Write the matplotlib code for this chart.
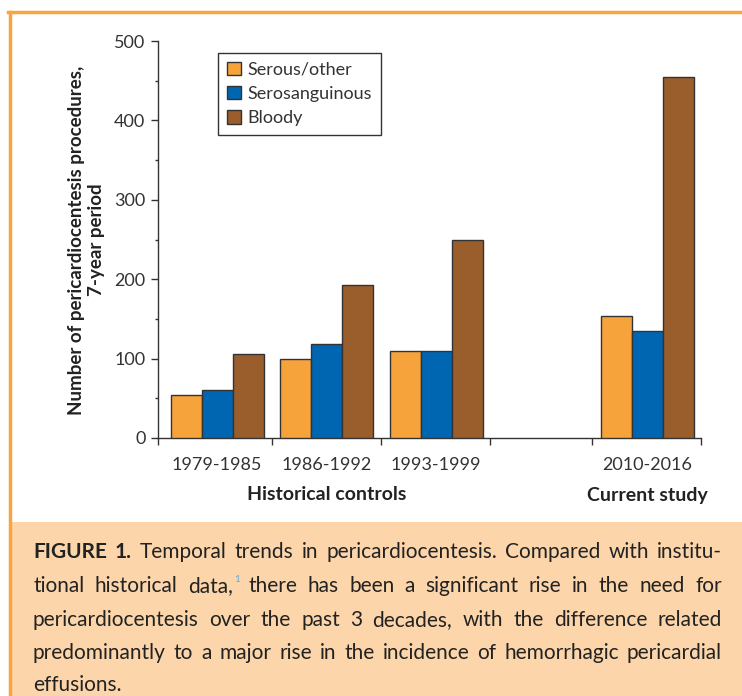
import matplotlib.pyplot as plt
from matplotlib import font_manager
from matplotlib.patches import Rectangle
from matplotlib.lines import Line2D

# data
periods = ['1979-1985', '1986-1992', '1993-1999', '2010-2016']
serous = [54, 100, 110, 154]
serosanguinous = [61, 119, 109, 135]
bloody = [106, 193, 250, 455]
series_names = ['Serous/other', 'Serosanguinous', 'Bloody']
colors = ['#F7A33B', '#0066B2', '#9A5D2C']
group_pos = [0, 1, 2, 3.93]
group_labels = ['Historical controls', 'Current study']

caption_lines = [
    'FIGURE 1. Temporal trends in pericardiocentesis. Compared with institu-',
    'tional historical data, there has been a significant rise in the need for',
    'pericardiocentesis over the past 3 decades, with the difference related',
    'predominantly to a major rise in the incidence of hemorrhagic pericardial',
    'effusions.',
]

names = {f.name for f in font_manager.fontManager.ttflist}
base_font = 'Lato' if 'Lato' in names else 'DejaVu Sans'
plt.rcParams['font.family'] = [base_font, 'DejaVu Sans']

W, H = 742, 696
fig = plt.figure(figsize=(W / 100, H / 100), dpi=100)

# orange frame and caption box
fig.add_artist(Line2D([8 / W, 1], [1 - 12 / H] * 2, color='#F9A53E', lw=2.5))
fig.add_artist(Line2D([9.5 / W] * 2, [0, 1 - 12 / H], color='#F9A53E', lw=2.5))
fig.add_artist(Rectangle((11 / W, 0), 1 - 11 / W, (696 - 522) / H,
                         transform=fig.transFigure, color='#FCD6AA', lw=0))

ax = fig.add_axes([158 / W, 1 - 438 / H, (701 - 158) / W, (438 - 41) / H])
bw = 0.283
for i, vals in enumerate([serous, serosanguinous, bloody]):
    xs = [p + (i - 1) * bw for p in group_pos]
    ax.bar(xs, vals, width=bw, color=colors[i], edgecolor='#333333',
           linewidth=1, label=series_names[i], zorder=3)

ax.set_xlim(-0.54, 4.42)
ax.set_ylim(0, 500)
ax.set_xticks(group_pos, periods)
ax.set_xticks([-0.54, 0.5, 1.5, 2.49, 3.42, 4.42], minor=True)
ax.set_yticks(range(0, 501, 100))
ax.set_yticks(range(50, 500, 100), minor=True)
ax.tick_params(axis='x', which='major', length=0, pad=14, labelsize=13, labelcolor='#333333')
ax.tick_params(axis='x', which='minor', length=5, width=1, color='#333333')
ax.tick_params(axis='y', which='major', length=5, width=1, pad=4, labelsize=13,
               color='#333333', labelcolor='#333333')
ax.tick_params(axis='y', which='minor', length=2.5, width=1, color='#333333')
for s in ['top', 'right']:
    ax.spines[s].set_visible(False)
for s in ['left', 'bottom']:
    ax.spines[s].set_color('#333333')
    ax.spines[s].set_linewidth(1)

leg = ax.legend(loc='upper left', bbox_to_anchor=(0.1105, 0.97), borderaxespad=0,
                fancybox=False, edgecolor='#333333', framealpha=1, fontsize=13,
                handlelength=0.75, handleheight=0.75, handletextpad=0.4,
                labelspacing=0.45, borderpad=0.5)
leg.get_frame().set_linewidth(1)
for t in leg.get_texts():
    t.set_color('#333333')

fig.text(86.5 / W, 1 - 240 / H, 'Number of pericardiocentesis procedures,\n7-year period',
         rotation=90, ha='center', va='center', multialignment='center',
         fontsize=13.5, fontweight='bold', color='#222222', linespacing=1.15)
fig.text(327 / W, 1 - 495 / H, group_labels[0], ha='center', va='center',
         fontsize=14, fontweight='bold', color='#222222')
fig.text(647 / W, 1 - 495 / H, group_labels[1], ha='center', va='center',
         fontsize=14, fontweight='bold', color='#222222')

# justified caption
renderer = fig.canvas.get_renderer()
left, right = 33, 722
baselines = [558, 592, 626, 659, 691]
cap_size = 15
for li, line in enumerate(caption_lines):
    words = line.split(' ')
    arts = []
    widths = []
    for wi, w in enumerate(words):
        bold = li == 0 and wi < 2
        t = fig.text(0, 1 - baselines[li] / H, w, fontsize=cap_size, va='baseline',
                     ha='left', fontweight='bold' if bold else 'normal', color='#222222')
        wd = t.get_window_extent(renderer).width
        sup = None
        if w == 'data,':
            sup = fig.text(0, 1 - (baselines[li] - 10) / H, '1', fontsize=7,
                           va='baseline', ha='left', color='#5FA8DC')
            wd += 5
        arts.append((t, sup, wd))
        widths.append(wd)
    if li < len(caption_lines) - 1 and len(words) > 1:
        gap = (right - left - sum(widths)) / (len(words) - 1)
    else:
        sp = fig.text(0, 0, 'a b', fontsize=cap_size)
        sp2 = fig.text(0, 0, 'ab', fontsize=cap_size)
        gap = sp.get_window_extent(renderer).width - sp2.get_window_extent(renderer).width
        sp.remove()
        sp2.remove()
    x = left
    for t, sup, wd in arts:
        t.set_x(x / W)
        if sup is not None:
            sup.set_x((x + wd - 4) / W)
        x += wd + gap

fig.savefig('out.png', dpi=100)
